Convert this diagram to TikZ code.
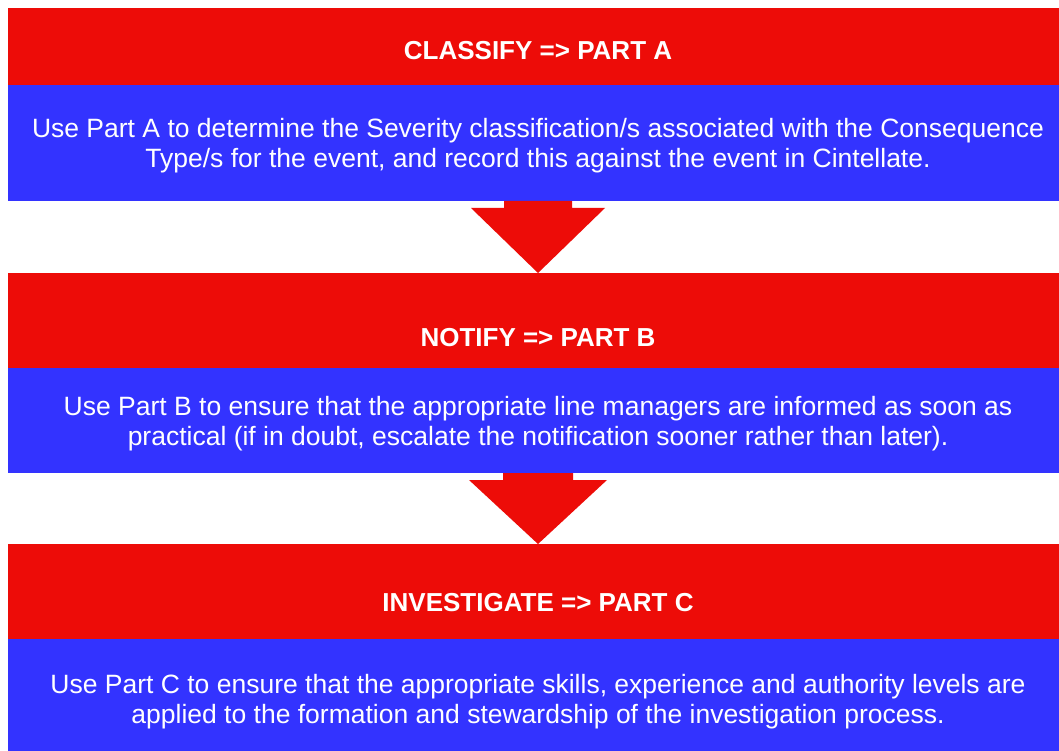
\documentclass[tikz,border=0pt]{standalone}
\usepackage{fontspec}
\setmainfont{Liberation Sans}
\usetikzlibrary{calc}
\definecolor{bandred}{RGB}{237,12,8}
\definecolor{bandblue}{RGB}{51,51,255}
\begin{document}
\begin{tikzpicture}[x=1pt,y=-1pt,
  band/.style={rectangle,inner sep=0pt,outer sep=0pt,anchor=north west,minimum width=1051pt},
  redband/.style={band,fill=bandred},
  blueband/.style={band,fill=bandblue},
  headtxt/.style={text=white,font=\fontsize{26}{30}\selectfont\bfseries,inner sep=0pt},
  bodytxt/.style={text=white,font=\fontsize{26.5}{30}\selectfont,align=center,inner sep=0pt},
  flowarrow/.style={fill=bandred}
]
\useasboundingbox (0,0) rectangle (1059,751);
\fill[white] (0,0) rectangle (1059,751);
% bands
\node[redband,minimum height=77pt] (red1) at (8,8) {};
\node[blueband,minimum height=116pt] (blue1) at (8,85) {};
\node[redband,minimum height=95pt] (red2) at (8,273) {};
\node[blueband,minimum height=105pt] (blue2) at (8,368) {};
\node[redband,minimum height=95pt] (red3) at (8,544) {};
\node[blueband,minimum height=112pt] (blue3) at (8,639) {};
% texts
\node[headtxt] (h1) at (538,51) {CLASSIFY => PART A};
\node[bodytxt] (b1) at (538,146) {Use Part A to determine the Severity classification/s associated with the Consequence\\Type/s for the event, and record this against the event in Cintellate.};
\node[headtxt] (h2) at (538,338) {NOTIFY => PART B};
\node[bodytxt] (b2) at (538,424) {Use Part B to ensure that the appropriate line managers are informed as soon as\\practical (if in doubt, escalate the notification sooner rather than later).};
\node[headtxt] (h3) at (538,603) {INVESTIGATE => PART C};
\node[bodytxt] (b3) at (538,702) {Use Part C to ensure that the appropriate skills, experience and authority levels are\\applied to the formation and stewardship of the investigation process.};
% arrows from band to band
\coordinate (a1top) at (blue1.south -| h1);
\coordinate (a1tip) at (red2.north -| h1);
\coordinate (a2top) at (blue2.south -| h1);
\coordinate (a2tip) at (red3.north -| h1);
\fill[flowarrow] ($(a1top)+(-34,0)$) -- ($(a1top)+(34,0)$) -- ($(a1top)+(34,7)$) -- ($(a1top)+(67,7)$)
  -- (a1tip) -- ($(a1top)+(-67,7)$) -- ($(a1top)+(-34,7)$) -- cycle;
\fill[flowarrow] ($(a2top)+(-35,0)$) -- ($(a2top)+(35,0)$) -- ($(a2top)+(35,7)$) -- ($(a2top)+(69,7)$)
  -- (a2tip) -- ($(a2top)+(-69,7)$) -- ($(a2top)+(-35,7)$) -- cycle;
\end{tikzpicture}
\end{document}
